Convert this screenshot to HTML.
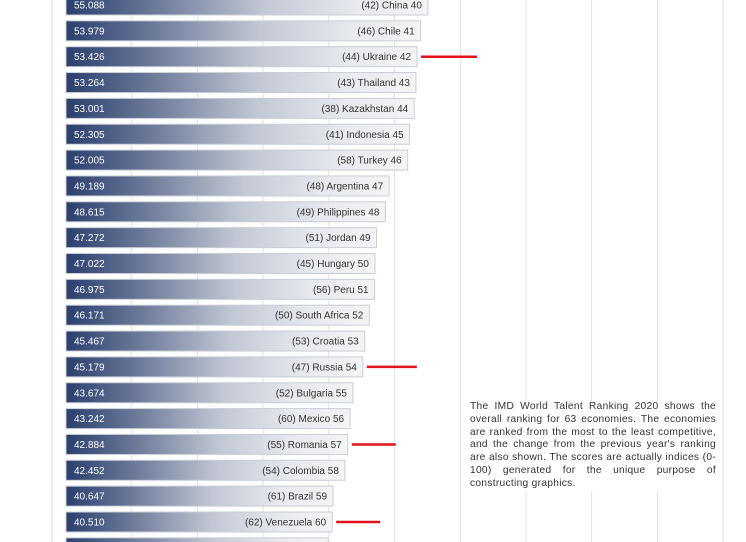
<!DOCTYPE html>
<html><head><meta charset="utf-8">
<style>
html,body{margin:0;padding:0;background:#fff;}
body{width:746px;height:542px;overflow:hidden;position:relative;font-family:"Liberation Sans",sans-serif;}
#note{position:absolute;left:468px;top:401px;width:246px;padding:0 2px;background:#fff;font-size:10.2px;line-height:12.8px;color:#333;text-align:justify;letter-spacing:0.3px;}
</style></head>
<body>
<svg id="chart" width="746" height="542" style="position:absolute;left:0;top:0">
<defs>
<linearGradient id="g" x1="0" x2="1" y1="0" y2="0">
<stop offset="0" stop-color="#2a3f6e"/>
<stop offset="0.25" stop-color="#6d7b9a"/>
<stop offset="0.55" stop-color="#c2c8d4"/>
<stop offset="0.8" stop-color="#e6e9ee"/>
<stop offset="1" stop-color="#f3f4f6"/>
</linearGradient>
</defs>
<g id="grid"></g><g id="bars"></g><g id="marks"></g>
</svg>
<div id="note">The IMD World Talent Ranking 2020 shows the overall ranking for 63 economies. The economies are ranked from the most to the least competitive, and the change from the previous year's ranking are also shown. The scores are actually indices (0-100) generated for the unique purpose of constructing graphics.</div>
<script>
const countries=["China","Chile","Ukraine","Thailand","Kazakhstan","Indonesia","Turkey","Argentina","Philippines","Jordan","Hungary","Peru","South Africa","Croatia","Russia","Bulgaria","Mexico","Romania","Colombia","Brazil","Venezuela",""];
const scores=[55.088,53.979,53.426,53.264,53.001,52.305,52.005,49.189,48.615,47.272,47.022,46.975,46.171,45.467,45.179,43.674,43.242,42.884,42.452,40.647,40.510,39.9];
const scoreLabels=["55.088","53.979","53.426","53.264","53.001","52.305","52.005","49.189","48.615","47.272","47.022","46.975","46.171","45.467","45.179","43.674","43.242","42.884","42.452","40.647","40.510",""];
const prevRanks=[42,46,44,43,38,41,58,48,49,51,45,56,50,53,47,52,60,55,54,61,62,0];
const ranks=[40,41,42,43,44,45,46,47,48,49,50,51,52,53,54,55,56,57,58,59,60,61];
const highlighted=["Ukraine","Russia","Romania","Venezuela"];
const gridTicks=[10,20,30,40,50,60,70,80,90,100];

const NS="http://www.w3.org/2000/svg";
const X0=66,K=6.57,Y0=5,PITCH=25.85,BH=20;
const x=v=>X0+v*K;
const y=i=>Y0+i*PITCH;
function mk(t,a,p){const e=document.createElementNS(NS,t);for(const k in a)e.setAttribute(k,a[k]);p.appendChild(e);return e;}
const grid=document.getElementById('grid'),bars=document.getElementById('bars'),marks=document.getElementById('marks');
const fr=mk('line',{x1:52,x2:52,y1:0,y2:542,stroke:'#d8dde3','stroke-width':1},grid);


gridTicks.forEach(t=>{
  const l=mk('line',{x1:x(t),x2:x(t),y1:0,y2:542,stroke:'#dfe2e6','stroke-width':1},grid);
  
  
});
countries.forEach((c,i)=>{
  const cy=y(i);
  const g=mk('g',{},bars);
  
  
  mk('rect',{x:X0,y:cy-BH/2,width:x(scores[i])-X0,height:BH,fill:'url(#g)',stroke:'#c9ced6','stroke-width':1},g);
  if(scoreLabels[i]){
    const t=mk('text',{x:74,y:cy+3.5,fill:'#fff','font-size':10},g);t.textContent=scoreLabels[i];
    
    
  }
  if(c){
    const t=mk('text',{x:x(scores[i])-6,y:cy+3.5,fill:'#333','font-size':10,'text-anchor':'end'},g);
    t.textContent='('+prevRanks[i]+') '+c+' '+ranks[i];
    
    
  }
  if(highlighted.includes(c)){
    const l=mk('line',{x1:x(scores[i])+4,x2:x(scores[i])+4+(i<5?56:(i<16?50:44)),y1:cy,y2:cy,stroke:'#e0141c','stroke-width':2.5},marks);
    
    
  }
});
</script>
</body></html>
